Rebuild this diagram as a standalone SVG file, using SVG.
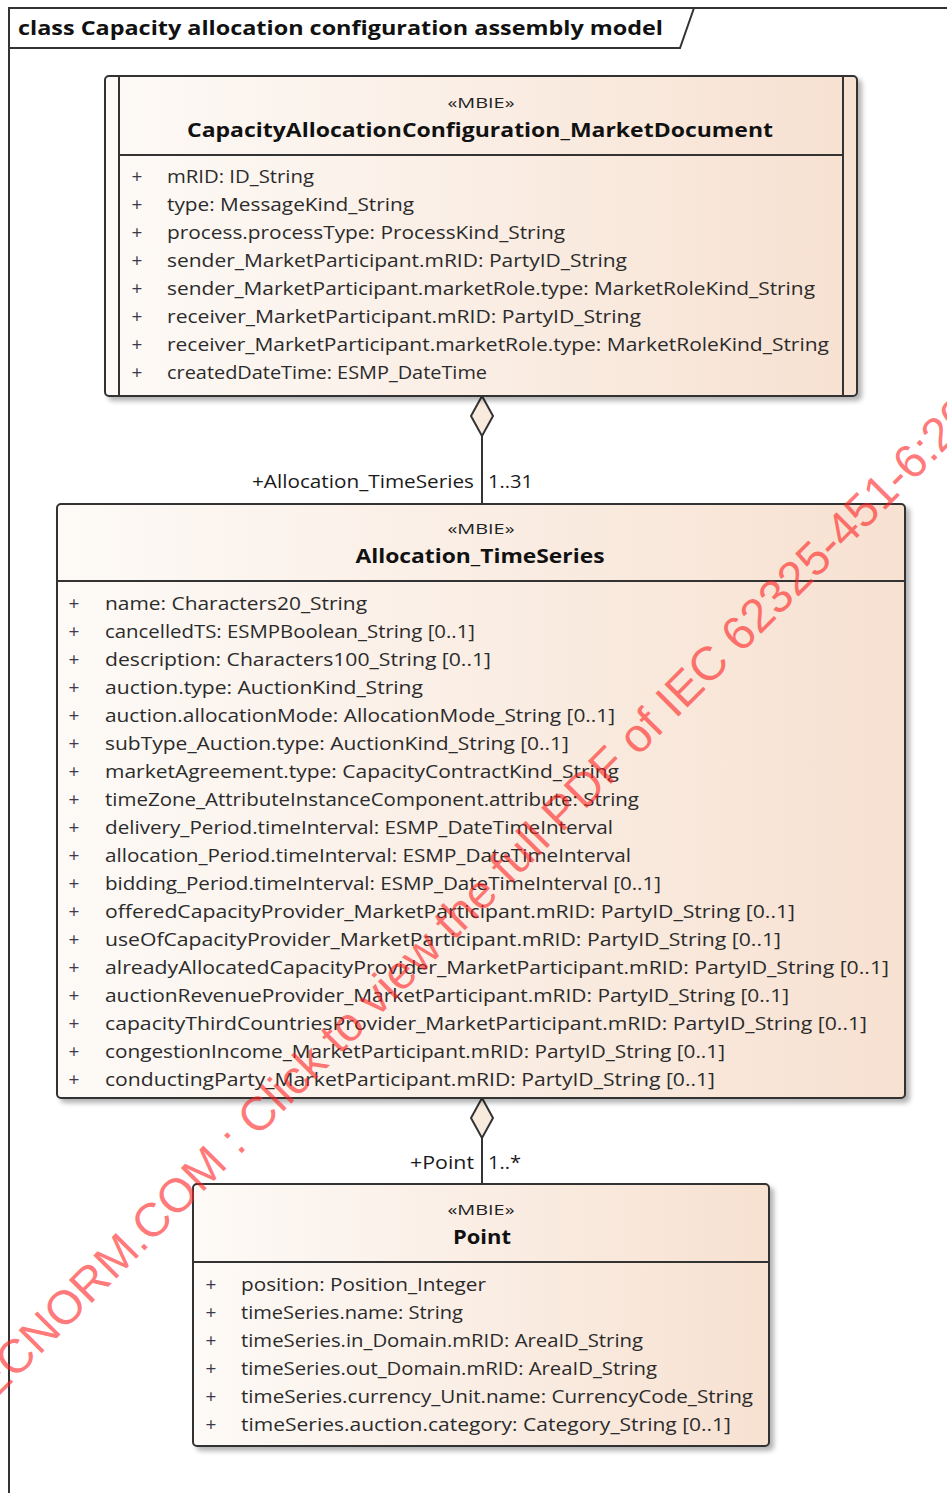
<svg xmlns="http://www.w3.org/2000/svg" width="947" height="1493" viewBox="0 0 947 1493">
  <defs>
    <linearGradient id="classFill" x1="0" y1="0" x2="1" y2="0">
      <stop offset="0" stop-color="#fdfaf7"/>
      <stop offset="1" stop-color="#f7e1d1"/>
    </linearGradient>
    <filter id="shadow" x="-5%" y="-5%" width="112%" height="115%">
      <feGaussianBlur in="SourceAlpha" stdDeviation="2.5"/>
      <feOffset dx="4" dy="4" result="off"/>
      <feComponentTransfer><feFuncA type="linear" slope="0.3"/></feComponentTransfer>
      <feMerge><feMergeNode/><feMergeNode in="SourceGraphic"/></feMerge>
    </filter>
    <style>
      .box { fill: url(#classFill); stroke: #333; stroke-width: 2; }
      .sep { stroke: #333; stroke-width: 2; }
      .attr { font-family: "Open Sans", "DejaVu Sans", sans-serif; font-size: 19px; fill: #2b2b2b; }
      .plus { font-family: "Open Sans", "DejaVu Sans", sans-serif; font-size: 19px; fill: #3a3a4a; text-anchor: middle; }
      .stereo { font-family: "Open Sans", "DejaVu Sans", sans-serif; font-size: 15px; fill: #222; text-anchor: middle; }
      .name { font-family: "Open Sans", "DejaVu Sans", sans-serif; font-size: 20px; font-weight: bold; fill: #111; text-anchor: middle; }
      .role { font-family: "Open Sans", "DejaVu Sans", sans-serif; font-size: 19px; fill: #1a1a1a; }
      .title { font-family: "Open Sans", "DejaVu Sans", sans-serif; font-size: 19px; font-weight: bold; fill: #111; }
      .frame { fill: none; stroke: #333; stroke-width: 2; }
      .link { stroke: #333; stroke-width: 2; fill: none; }
      .diamond { fill: #f8ebde; stroke: #333; stroke-width: 2; }
      .mark { font-family: "Liberation Sans", Arial, sans-serif; font-size: 47.5px; fill: #ff2020; fill-opacity: 0.6; }
    </style>
  </defs>

  <rect width="947" height="1493" fill="#ffffff"/>

  <!-- diagram frame -->
  <g id="frame">
    <path class="frame" d="M9,1493 V8 H947"/>
    <path class="frame" d="M9,48 H680 L694,8"/>
    <text class="title" x="18" y="35" textLength="645" lengthAdjust="spacingAndGlyphs">class Capacity allocation configuration assembly model</text>
  </g>

  <!-- associations -->
  <g id="connectors">
    <line class="link" x1="482" y1="436" x2="482" y2="504"/>
    <path class="diamond" d="M482,396 L493,416 L482,436 L471,416 Z"/>
    <text class="role" x="474" y="488" text-anchor="end" textLength="222" lengthAdjust="spacingAndGlyphs">+Allocation_TimeSeries</text>
    <text class="role" x="488" y="488" textLength="45" lengthAdjust="spacingAndGlyphs">1..31</text>

    <line class="link" x1="482" y1="1138" x2="482" y2="1184"/>
    <path class="diamond" d="M482,1098 L493,1118 L482,1138 L471,1118 Z"/>
    <text class="role" x="474" y="1169" text-anchor="end" textLength="64" lengthAdjust="spacingAndGlyphs">+Point</text>
    <text class="role" x="488" y="1169" textLength="33" lengthAdjust="spacingAndGlyphs">1..*</text>
  </g>

  <!-- CapacityAllocationConfiguration_MarketDocument -->
  <g id="market-document">
    <rect class="box" x="105" y="76" width="752" height="320" rx="4" filter="url(#shadow)"/>
    <line class="sep" x1="119" y1="76" x2="119" y2="396"/>
    <line class="sep" x1="843" y1="76" x2="843" y2="396"/>
    <line class="sep" x1="119" y1="155" x2="843" y2="155"/>
    <text class="stereo" x="481" y="108" textLength="67" lengthAdjust="spacingAndGlyphs">«MBIE»</text>
    <text class="name" x="480" y="137" textLength="586" lengthAdjust="spacingAndGlyphs">CapacityAllocationConfiguration_MarketDocument</text>
    <g>
      <text class="plus" x="137" y="183">+</text>
      <text class="plus" x="137" y="211">+</text>
      <text class="plus" x="137" y="239">+</text>
      <text class="plus" x="137" y="267">+</text>
      <text class="plus" x="137" y="295">+</text>
      <text class="plus" x="137" y="323">+</text>
      <text class="plus" x="137" y="351">+</text>
      <text class="plus" x="137" y="379">+</text>
    </g>
    <text class="attr" x="167" y="183" textLength="147" lengthAdjust="spacingAndGlyphs">mRID: ID_String</text>
    <text class="attr" x="167" y="211" textLength="247" lengthAdjust="spacingAndGlyphs">type: MessageKind_String</text>
    <text class="attr" x="167" y="239" textLength="398" lengthAdjust="spacingAndGlyphs">process.processType: ProcessKind_String</text>
    <text class="attr" x="167" y="267" textLength="460" lengthAdjust="spacingAndGlyphs">sender_MarketParticipant.mRID: PartyID_String</text>
    <text class="attr" x="167" y="295" textLength="648" lengthAdjust="spacingAndGlyphs">sender_MarketParticipant.marketRole.type: MarketRoleKind_String</text>
    <text class="attr" x="167" y="323" textLength="474" lengthAdjust="spacingAndGlyphs">receiver_MarketParticipant.mRID: PartyID_String</text>
    <text class="attr" x="167" y="351" textLength="662" lengthAdjust="spacingAndGlyphs">receiver_MarketParticipant.marketRole.type: MarketRoleKind_String</text>
    <text class="attr" x="167" y="379" textLength="320" lengthAdjust="spacingAndGlyphs">createdDateTime: ESMP_DateTime</text>
  </g>

  <!-- Allocation_TimeSeries -->
  <g id="allocation-timeseries">
    <rect class="box" x="57" y="504" width="848" height="594" rx="4" filter="url(#shadow)"/>
    <line class="sep" x1="57" y1="581" x2="905" y2="581"/>
    <text class="stereo" x="481" y="534" textLength="67" lengthAdjust="spacingAndGlyphs">«MBIE»</text>
    <text class="name" x="480" y="563" textLength="249" lengthAdjust="spacingAndGlyphs">Allocation_TimeSeries</text>
    <g>
      <text class="plus" x="74" y="610">+</text>
      <text class="plus" x="74" y="638">+</text>
      <text class="plus" x="74" y="666">+</text>
      <text class="plus" x="74" y="694">+</text>
      <text class="plus" x="74" y="722">+</text>
      <text class="plus" x="74" y="750">+</text>
      <text class="plus" x="74" y="778">+</text>
      <text class="plus" x="74" y="806">+</text>
      <text class="plus" x="74" y="834">+</text>
      <text class="plus" x="74" y="862">+</text>
      <text class="plus" x="74" y="890">+</text>
      <text class="plus" x="74" y="918">+</text>
      <text class="plus" x="74" y="946">+</text>
      <text class="plus" x="74" y="974">+</text>
      <text class="plus" x="74" y="1002">+</text>
      <text class="plus" x="74" y="1030">+</text>
      <text class="plus" x="74" y="1058">+</text>
      <text class="plus" x="74" y="1086">+</text>
    </g>
    <text class="attr" x="105" y="610" textLength="262" lengthAdjust="spacingAndGlyphs">name: Characters20_String</text>
    <text class="attr" x="105" y="638" textLength="370" lengthAdjust="spacingAndGlyphs">cancelledTS: ESMPBoolean_String [0..1]</text>
    <text class="attr" x="105" y="666" textLength="386" lengthAdjust="spacingAndGlyphs">description: Characters100_String [0..1]</text>
    <text class="attr" x="105" y="694" textLength="318" lengthAdjust="spacingAndGlyphs">auction.type: AuctionKind_String</text>
    <text class="attr" x="105" y="722" textLength="510" lengthAdjust="spacingAndGlyphs">auction.allocationMode: AllocationMode_String [0..1]</text>
    <text class="attr" x="105" y="750" textLength="464" lengthAdjust="spacingAndGlyphs">subType_Auction.type: AuctionKind_String [0..1]</text>
    <text class="attr" x="105" y="778" textLength="514" lengthAdjust="spacingAndGlyphs">marketAgreement.type: CapacityContractKind_String</text>
    <text class="attr" x="105" y="806" textLength="534" lengthAdjust="spacingAndGlyphs">timeZone_AttributeInstanceComponent.attribute: String</text>
    <text class="attr" x="105" y="834" textLength="508" lengthAdjust="spacingAndGlyphs">delivery_Period.timeInterval: ESMP_DateTimeInterval</text>
    <text class="attr" x="105" y="862" textLength="526" lengthAdjust="spacingAndGlyphs">allocation_Period.timeInterval: ESMP_DateTimeInterval</text>
    <text class="attr" x="105" y="890" textLength="556" lengthAdjust="spacingAndGlyphs">bidding_Period.timeInterval: ESMP_DateTimeInterval [0..1]</text>
    <text class="attr" x="105" y="918" textLength="690" lengthAdjust="spacingAndGlyphs">offeredCapacityProvider_MarketParticipant.mRID: PartyID_String [0..1]</text>
    <text class="attr" x="105" y="946" textLength="676" lengthAdjust="spacingAndGlyphs">useOfCapacityProvider_MarketParticipant.mRID: PartyID_String [0..1]</text>
    <text class="attr" x="105" y="974" textLength="784" lengthAdjust="spacingAndGlyphs">alreadyAllocatedCapacityProvider_MarketParticipant.mRID: PartyID_String [0..1]</text>
    <text class="attr" x="105" y="1002" textLength="684" lengthAdjust="spacingAndGlyphs">auctionRevenueProvider_MarketParticipant.mRID: PartyID_String [0..1]</text>
    <text class="attr" x="105" y="1030" textLength="762" lengthAdjust="spacingAndGlyphs">capacityThirdCountriesProvider_MarketParticipant.mRID: PartyID_String [0..1]</text>
    <text class="attr" x="105" y="1058" textLength="620" lengthAdjust="spacingAndGlyphs">congestionIncome_MarketParticipant.mRID: PartyID_String [0..1]</text>
    <text class="attr" x="105" y="1086" textLength="610" lengthAdjust="spacingAndGlyphs">conductingParty_MarketParticipant.mRID: PartyID_String [0..1]</text>
  </g>

  <!-- Point -->
  <g id="point">
    <rect class="box" x="193" y="1184" width="576" height="262" rx="4" filter="url(#shadow)"/>
    <line class="sep" x1="193" y1="1262" x2="769" y2="1262"/>
    <text class="stereo" x="481" y="1215" textLength="67" lengthAdjust="spacingAndGlyphs">«MBIE»</text>
    <text class="name" x="482" y="1244" textLength="58" lengthAdjust="spacingAndGlyphs">Point</text>
    <g>
      <text class="plus" x="211" y="1291">+</text>
      <text class="plus" x="211" y="1319">+</text>
      <text class="plus" x="211" y="1347">+</text>
      <text class="plus" x="211" y="1375">+</text>
      <text class="plus" x="211" y="1403">+</text>
      <text class="plus" x="211" y="1431">+</text>
    </g>
    <text class="attr" x="241" y="1291" textLength="245" lengthAdjust="spacingAndGlyphs">position: Position_Integer</text>
    <text class="attr" x="241" y="1319" textLength="222" lengthAdjust="spacingAndGlyphs">timeSeries.name: String</text>
    <text class="attr" x="241" y="1347" textLength="402" lengthAdjust="spacingAndGlyphs">timeSeries.in_Domain.mRID: AreaID_String</text>
    <text class="attr" x="241" y="1375" textLength="416" lengthAdjust="spacingAndGlyphs">timeSeries.out_Domain.mRID: AreaID_String</text>
    <text class="attr" x="241" y="1403" textLength="512" lengthAdjust="spacingAndGlyphs">timeSeries.currency_Unit.name: CurrencyCode_String</text>
    <text class="attr" x="241" y="1431" textLength="490" lengthAdjust="spacingAndGlyphs">timeSeries.auction.category: Category_String [0..1]</text>
  </g>

  <!-- diagonal stamp across the sheet -->
  <text class="mark" transform="translate(-17,1412) rotate(-45)">IECNORM.COM : Click to view the full PDF of IEC 62325-451-6:2018</text>
</svg>
